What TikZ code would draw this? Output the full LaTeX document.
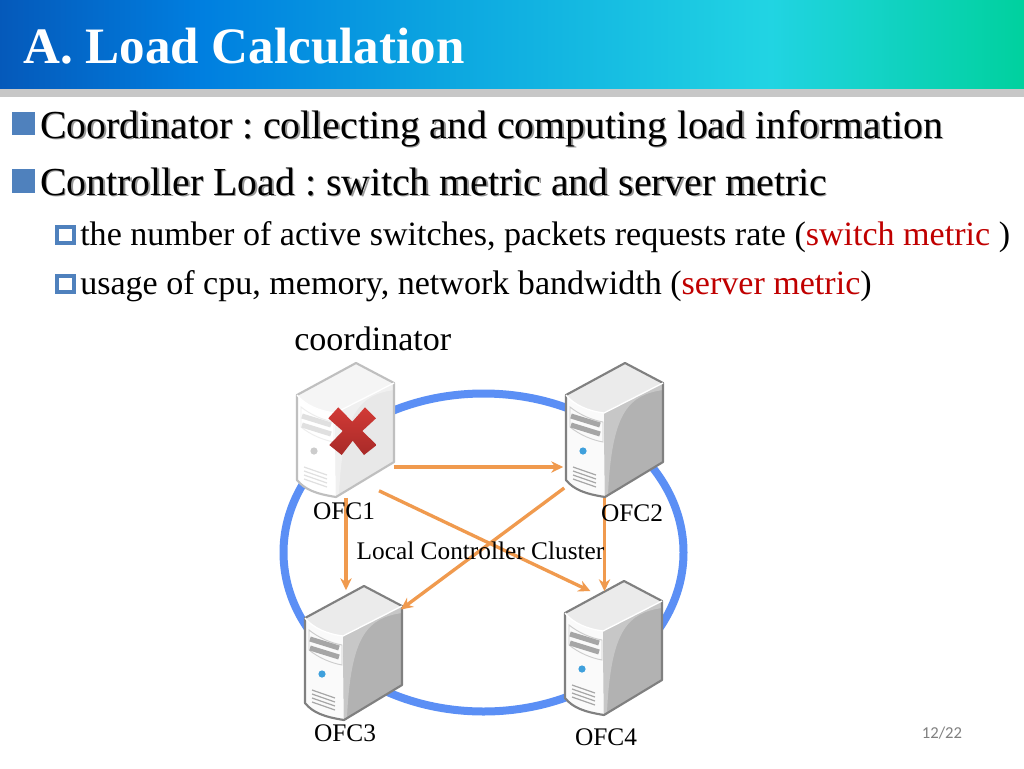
\documentclass[tikz,border=0pt]{standalone}
\usepackage{fontspec}
\setmainfont{Liberation Serif}
\newfontfamily\pagefont{Carlito}
\usetikzlibrary{arrows.meta,calc}
\frenchspacing
\definecolor{barblue}{HTML}{4F81BD}
\definecolor{ringblue}{HTML}{5B8FF5}
\definecolor{arroworange}{HTML}{F09A4E}
\definecolor{redtext}{HTML}{C00000}
\definecolor{dotblue}{HTML}{3FA0DC}
\definecolor{crosstop}{HTML}{D23A36}
\definecolor{crossbot}{HTML}{A82A28}
\pgfdeclarehorizontalshading{headershade}{100bp}{
  rgb(0bp)=(0.02,0.35,0.73);
  rgb(25bp)=(0.02,0.35,0.73);
  rgb(35bp)=(0.0,0.50,0.88);
  rgb(47.5bp)=(0.05,0.66,0.88);
  rgb(62.5bp)=(0.13,0.83,0.89);
  rgb(75bp)=(0.0,0.82,0.62);
  rgb(100bp)=(0.0,0.82,0.62)}
\newcommand\shtext[1]{\rlap{\kern1.1pt\raisebox{-1.1pt}{\textcolor{black!40}{#1}}}#1}
\tikzset{
  px/.style={x=0.75pt,y=-0.75pt},
  lineone/.style={anchor=base west,inner sep=0pt,font=\fontsize{29.8pt}{32pt}\selectfont},
  linetwo/.style={anchor=base west,inner sep=0pt,font=\fontsize{25.55pt}{29pt}\selectfont},
  lbl/.style={anchor=base,inner sep=0pt,font=\fontsize{19pt}{22pt}\selectfont},
  srvbox/.style={inner sep=0pt,minimum width=73.5pt,minimum height=100.5pt},
  conn/.style={draw=arroworange,line width=2.5pt,-{Stealth[length=9pt,width=8.5pt]}},
  bulfull/.style={fill=barblue,draw=none},
  bulopen/.style={draw=barblue,fill=white,line width=3pt},
}
% #1 origin, #2 top, #3 side, #4 side highlight, #5 edge, #6 front, #7 detail, #8 panel, #9 dot
\newcommand\server[9]{%
\begin{scope}[shift={#1}]
  \fill[#6] (0,32) -- (59,0) -- (97,20) -- (97,99) -- (39,134) .. controls (20,131) and (8,127) .. (0,117) -- cycle;
  \fill[#2] (0,32) -- (59,0) -- (97,20) -- (38,50) .. controls (22,48) and (8,42) .. (0,32) -- cycle;
  \fill[#3] (38,50) -- (97,20) -- (97,99) -- (39,134) -- cycle;
  \fill[#4] (38,50) -- (97,20) -- (97,27) .. controls (62,32) and (46,50) .. (42,131) -- (39,134) -- cycle;
  \draw[#5,line width=1.6pt,line join=round] (0,32) -- (59,0) -- (97,20) -- (97,99) -- (39,134) .. controls (20,131) and (8,127) .. (0,117) -- cycle;
  \draw[white,line width=1pt] (0,32) .. controls (8,42) and (22,48) .. (38,50) -- (97,20);
  \draw[#8,line width=.7pt] (4,44) .. controls (14,52) and (26,57) .. (37,59) -- (37,79) .. controls (26,77) and (14,72) .. (4,64) -- cycle;
  \draw[#7,line width=3.8pt] (5,53) -- (34,62);
  \draw[#7,line width=3.8pt] (5,62) -- (34,71);
  \fill[#9] (17,88) circle (3.6);
  \foreach \yy in {104,108,112,116} \draw[#7,line width=.9pt] (7,\yy) -- (30,\yy+8);
\end{scope}}
\begin{document}
\begin{tikzpicture}[px]
\useasboundingbox (0,0) rectangle (1024,768);
\fill[white] (0,0) rectangle (1024,768);
\shade[shading=headershade] (0,0) rectangle (1024,89);
\fill[black!22] (0,89) rectangle (1024,97);
\node[anchor=base west,inner sep=0pt,text=white,font=\fontsize{38.3pt}{42pt}\selectfont\bfseries] (title) at (23,63) {A. Load Calculation};
%
\path[bulfull] (12,112) rectangle (35,135);
\node[lineone] (l1) at (40,138) {\shtext{Coordinator : collecting and computing load information}};
\path[bulfull] (12,169) rectangle (35,193);
\node[lineone] (l2) at (40,195) {\shtext{Controller Load : switch metric and server metric}};
\path[bulopen] (56.5,226.5) rectangle (73.5,243);
\node[linetwo] (l3) at (80,245) {the number of active switches, packets requests rate (\textcolor{redtext}{switch metric} )};
\path[bulopen] (56.5,275.5) rectangle (73.5,292);
\node[linetwo] (l4) at (80,294) {usage of cpu, memory, network bandwidth (\textcolor{redtext}{server metric})};
\node[linetwo] (coord) at (294,350) {coordinator};
%
\draw[ringblue,line width=6pt] (483.5,552.5) ellipse [x radius=200,y radius=159];
%
\node[srvbox] (ofc1) at (345.5,430.5) {};
\node[srvbox] (ofc2) at (614.5,430.5) {};
\node[srvbox] (ofc3) at (353.5,653.5) {};
\node[srvbox] (ofc4) at (613.5,648.5) {};
\server{(297,363)}{black!4}{black!9}{black!6}{black!25}{white}{black!12}{black!7}{black!20}
\server{(566,363)}{black!8}{black!30}{black!22}{black!50}{black!2}{black!35}{black!20}{dotblue}
\server{(305,586)}{black!8}{black!30}{black!22}{black!50}{black!2}{black!35}{black!20}{dotblue}
\server{(565,581)}{black!8}{black!30}{black!22}{black!50}{black!2}{black!35}{black!20}{dotblue}
% red cross
\shade[top color=crosstop,bottom color=crossbot] (338.3,407.3) -- (352.3,421.7) -- (365,407.3) -- (376,418.3) -- (362.3,431) -- (376.7,445) -- (364,455) -- (352.7,440.7) -- (341.7,455) -- (329.3,445) -- (342.7,431) -- (328.3,418.3) -- cycle;
%
\draw[conn] ([shift={(0.5,0)}]ofc1.south) -- ([shift={(-7.5,4)}]ofc3.north);
\draw[conn] ([shift={(-1,36.5)}]ofc1.east) -- ([shift={(-2,36.5)}]ofc2.west);
\draw[conn] ([shift={(33.5,-7)}]ofc1.south) -- ([shift={(-23,10)}]ofc4.north);
\draw[conn] ([shift={(-1,57.5)}]ofc2.west) -- ([shift={(-2,-44)}]ofc3.east);
\draw[conn] ([shift={(-10,0)}]ofc2.south) -- ([shift={(-9,10)}]ofc4.north);
%
\node[lbl] (n1) at (344,519) {OFC1};
\node[lbl] (n2) at (632,521) {OFC2};
\node[lbl] (n3) at (345,741) {OFC3};
\node[lbl] (n4) at (606,745) {OFC4};
\node[lbl,font=\fontsize{19pt}{22pt}\selectfont] (cluster) at (480.5,559) {Local Controller Cluster};
\node[anchor=base,inner sep=0pt,text=black!50,font=\fontsize{12.5pt}{14pt}\selectfont\pagefont] (page) at (942,738) {12/22};
\end{tikzpicture}
\end{document}
